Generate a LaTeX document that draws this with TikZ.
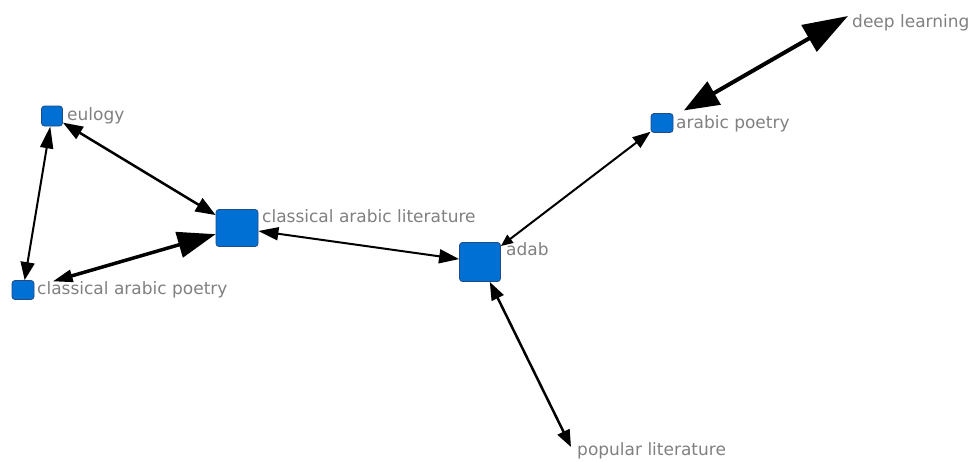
\documentclass[tikz,border=0pt]{standalone}
\usepackage{fontspec}
\setmainfont{DejaVu Sans}
\usetikzlibrary{arrows.meta}
\definecolor{nodefill}{RGB}{0,112,212}
\definecolor{nodeedge}{RGB}{35,75,130}
\definecolor{labelgray}{RGB}{128,128,128}
\tikzset{
  vert/.style={rectangle, rounded corners=3pt, fill=nodefill, draw=nodeedge, line width=0.8pt, inner sep=0pt},
  lbl/.style={anchor=base west, inner sep=0pt, text=labelgray, font=\fontsize{17}{19}\selectfont},
  edge/.style={draw=black},
}
\begin{document}
\begin{tikzpicture}[x=1pt,y=-1pt]
\useasboundingbox (0,0) rectangle (971,461);
% vertices
\node[vert, minimum width=21pt, minimum height=20pt] (eul) at (52,116) {};
\node[vert, minimum width=22pt, minimum height=19pt] (cap) at (23,290) {};
\node[vert, minimum width=42pt, minimum height=37pt] (lit) at (237,228) {};
\node[vert, minimum width=41pt, minimum height=39pt] (adab) at (480,262) {};
\node[vert, minimum width=22pt, minimum height=19pt] (ap) at (662,123) {};
\coordinate (dl) at (848,16);
\coordinate (pl) at (571,447);
% labels
\node[lbl] (eullbl) at (67,120) {eulogy};
\node[lbl] (caplbl) at (37,294) {classical arabic poetry};
\node[lbl] (litlbl) at (262,222) {classical arabic literature};
\node[lbl] (adablbl) at (506,255) {adab};
\node[lbl] (aplbl) at (676,128) {arabic poetry};
\node[lbl] (dllbl) at (852,27) {deep learning};
\node[lbl] (pllbl) at (577,455) {popular literature};
% edges
\draw[edge, line width=2.5pt, {Triangle[length=20pt,width=14pt]}-{Triangle[length=20pt,width=15pt]}] (eul) -- (lit);
\draw[edge, line width=2pt, {Triangle[length=22pt,width=13pt]}-{Triangle[length=18pt,width=14pt]}] (eul) -- (cap);
\draw[edge, line width=3.5pt, shorten >=19pt, {Triangle[length=38pt,width=26pt]}-{Triangle[length=20pt,width=12pt]}] (lit) -- (cap);
\draw[edge, line width=2pt, {Triangle[length=20pt,width=13pt]}-{Triangle[length=20pt,width=14pt]}] (lit) -- (adab);
\draw[edge, line width=2pt, {Triangle[length=12pt,width=10pt]}-{Triangle[length=18pt,width=13pt]}] (adab) -- (ap);
\draw[edge, line width=4pt, shorten <=12pt, {Triangle[length=35pt,width=26pt]}-{Triangle[length=45pt,width=30pt]}] (ap) -- (dl);
\draw[edge, line width=2.5pt, {Triangle[length=18pt,width=13pt]}-{Triangle[length=17pt,width=13pt]}] (adab) -- (pl);
\end{tikzpicture}
\end{document}
